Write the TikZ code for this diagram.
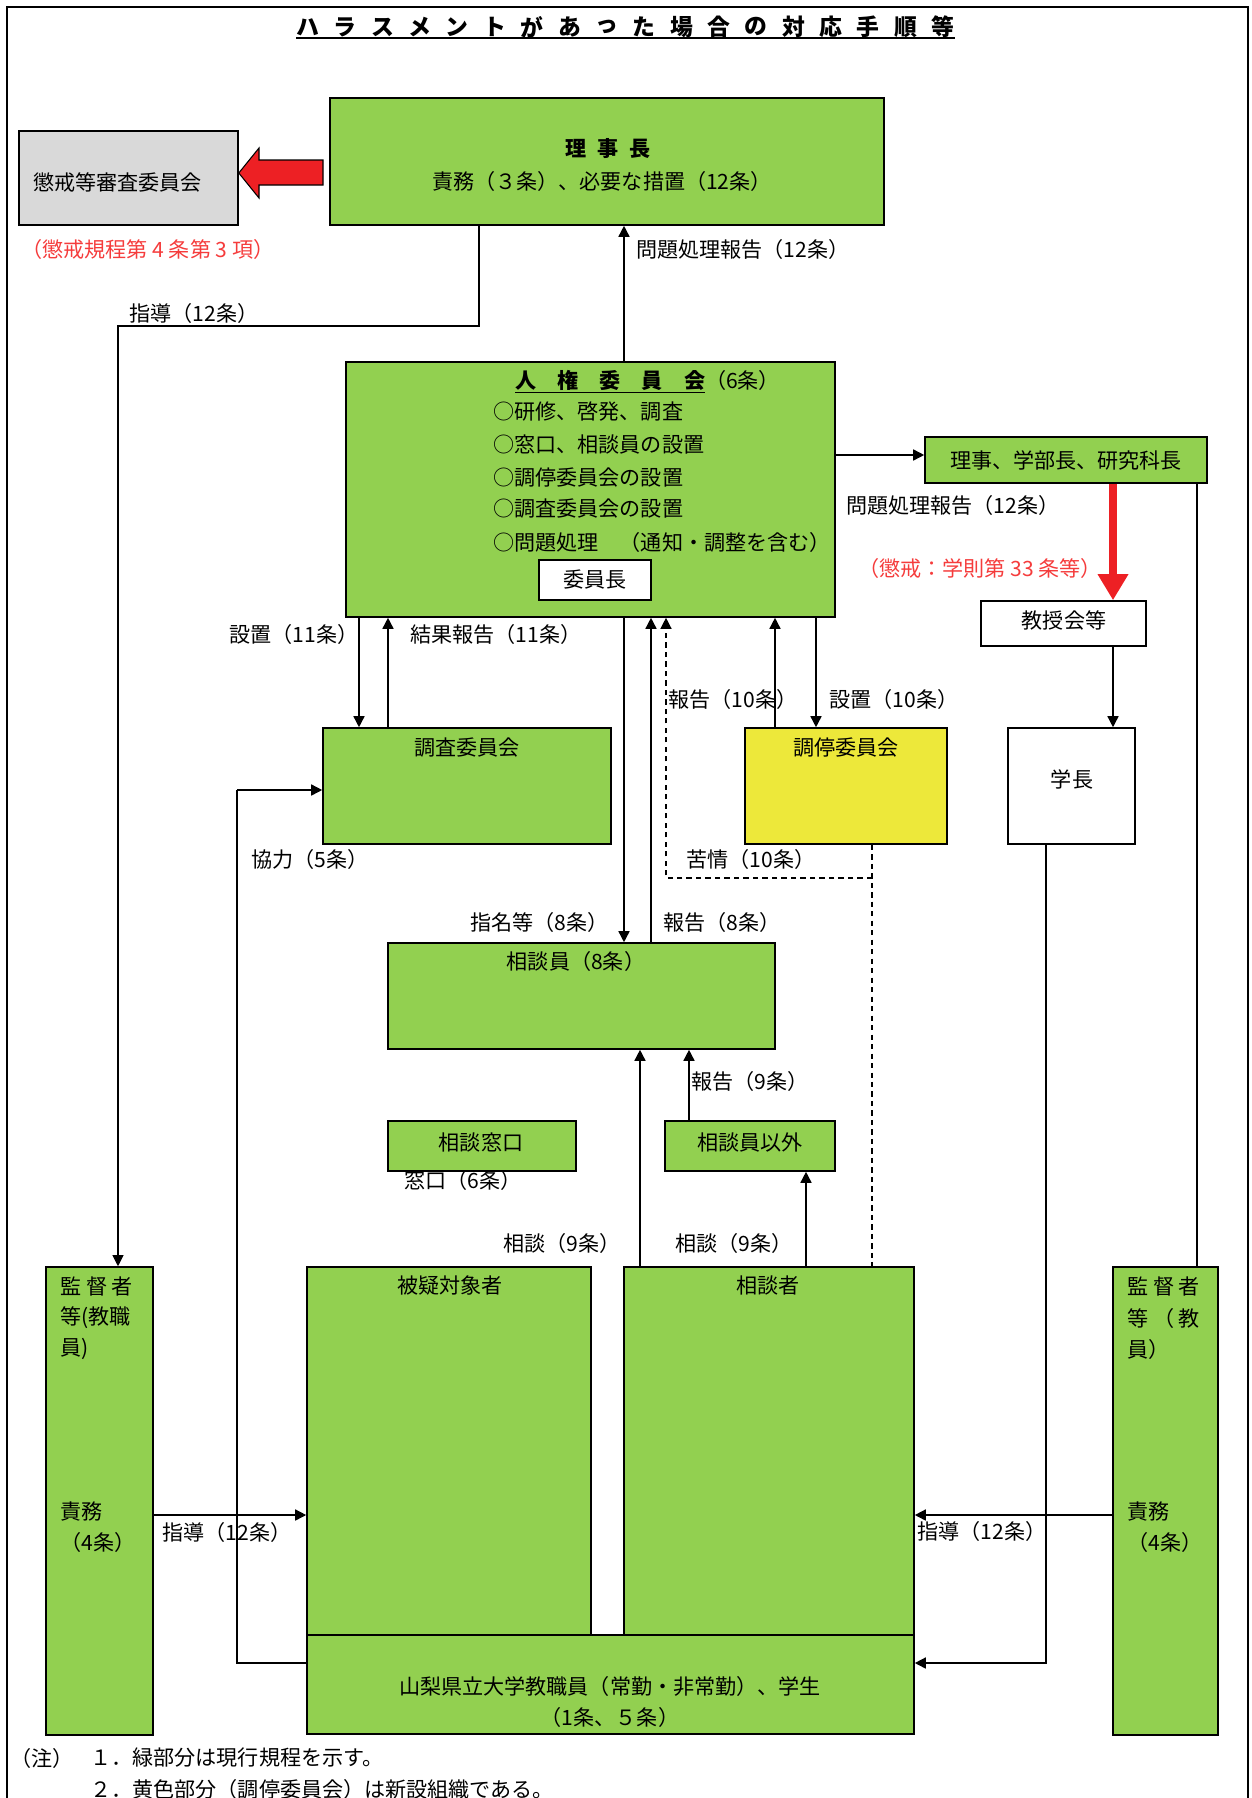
\documentclass[tikz,border=0pt]{standalone}
\usepackage{fontspec}
\setmainfont{Noto Sans CJK JP}
\usetikzlibrary{arrows.meta, fit}

\definecolor{grn}{RGB}{146,208,80}
\definecolor{ylw}{RGB}{237,232,58}
\definecolor{gry}{RGB}{217,217,217}
\definecolor{rd}{RGB}{237,32,36}
\definecolor{rdtxt}{RGB}{245,60,60}

% box from two corners: name, style, x1, y1, x2, y2
\newcommand{\bx}[6]{\path (#3,#4) coordinate (#1-a) (#5,#6) coordinate (#1-b);
  \node[#2, fit=(#1-a)(#1-b)] (#1) {};}

\tikzset{
  box/.style={draw, line width=0.9pt, inner sep=0pt},
  gbox/.style={box, fill=grn},
  wbox/.style={box, fill=white},
  txt/.style={inner sep=0pt},
  arr/.style={line width=0.85pt, -{Triangle[length=2.2mm,width=2.2mm]}},
  ln/.style={line width=0.6pt},
  dsh/.style={line width=0.7pt, dash pattern=on 3pt off 2.4pt},
}

\begin{document}
\begin{tikzpicture}[x=0.02cm, y=-0.02cm, every node/.style={font=\fontsize{12}{14}\selectfont}]
\useasboundingbox (0,0) rectangle (1251,1798);

% frame and title
\draw[line width=1.1pt] (7,1810) -- (7,7) -- (1248,7) -- (1248,1810);
\foreach \c [count=\i] in {ハ,ラ,ス,メ,ン,ト,が,あ,っ,た,場,合,の,対,応,手,順,等}
  \node[txt, font=\fontsize{13}{15}\selectfont\bfseries] (ttl-\i) at ({308+37.35*(\i-1)},27) {\c};
\draw[line width=1.2pt] (ttl-1.west |- 0,38) -- (ttl-18.east |- 0,38);

% top row
\bx{chokai}{box, fill=gry}{19}{131}{238}{225}
\node[txt, anchor=west] (t-chokai) at (33,182) {懲戒等審査委員会};
\node[txt, anchor=west, text=rdtxt] (l-chokai) at (21,249) {（懲戒規程第 4 条第 3 項）};
\bx{rijicho}{gbox}{330}{98}{884}{225}
\node[txt, font=\fontsize{12}{14}\selectfont\bfseries] (t-rijicho) at (608,149) {理\hspace{0.5em}事\hspace{0.5em}長};
\node[txt] (t-rijicho2) at (602,181) {責務（３条）、必要な措置（12条）};
\draw[line width=0.6pt, fill=rd] (chokai.east |- 0,173) -- (259,148) -- (259,160) -- (323,160)
  -- (323,185) -- (259,185) -- (259,198) -- cycle;

% human rights committee
\bx{jinken}{gbox}{346}{362}{835}{617}
\node[txt, anchor=west] (t-jinken) at (515,382) {\underline{\bfseries 人　権　委　員　会}（6条）};
\node[txt, anchor=west] (i-1) at (493,412) {○研修、啓発、調査};
\node[txt, anchor=west] (i-2) at (493,445) {○窓口、相談員の設置};
\node[txt, anchor=west] (i-3) at (493,478) {○調停委員会の設置};
\node[txt, anchor=west] (i-4) at (493,509) {○調査委員会の設置};
\node[txt, anchor=west] (i-5) at (493,542) {○問題処理　（通知・調整を含む）};
\bx{iincho}{wbox}{539}{560}{651}{600}
\node[txt] (t-iincho) at (iincho) {委員長};

\node[txt, anchor=west] (l-shido1) at (129,313) {指導（12条）};
\draw[arr] (624,0 |- jinken.north) -- (624,0 |- rijicho.south);
\node[txt, anchor=west] (l-hokoku12a) at (636,249) {問題処理報告（12条）};

% right column
\bx{riji}{gbox}{925}{437}{1207}{483}
\node[txt] (t-riji) at (riji) {理事、学部長、研究科長};
\draw[arr] (jinken.east |- 0,455) -- (riji.west |- 0,455);
\node[txt, anchor=west] (l-hokoku12b) at (846,505) {問題処理報告（12条）};
\bx{kyoju}{wbox}{981}{601}{1146}{646}
\node[txt] (t-kyoju) at (1064,620) {教授会等};
\draw[rd, line width=5pt, -{Triangle[length=5.2mm,width=5.8mm]}] (1113,0 |- riji.south) -- (1113,0 |- kyoju.north);
\node[txt, anchor=west, text=rdtxt] (l-gakusoku) at (858,568) {（懲戒：学則第 33 条等）};
\bx{gakucho}{wbox}{1008}{728}{1135}{844}
\node[txt] (t-gakucho) at (1072,779) {学長};
\draw[arr] (1113,0 |- kyoju.south) -- (1113,0 |- gakucho.north);

% committees
\node[txt, anchor=west] (l-setchi11) at (229,634) {設置（11条）};
\node[txt, anchor=west] (l-kekka11) at (410,634) {結果報告（11条）};
\node[txt, anchor=west] (l-hokoku10) at (668,699) {報告（10条）};
\node[txt, anchor=west] (l-setchi10) at (829,699) {設置（10条）};
\bx{chosa}{gbox}{323}{728}{611}{844}
\node[txt] (t-chosa) at (467,748) {調査委員会};
\bx{chotei}{box, fill=ylw}{745}{728}{947}{844}
\node[txt] (t-chotei) at (846,748) {調停委員会};
\draw[arr] (359,0 |- jinken.south) -- (359,0 |- chosa.north);
\draw[arr] (388,0 |- chosa.north) -- (388,0 |- jinken.south);
\draw[arr] (775,0 |- chotei.north) -- (775,0 |- jinken.south);
\draw[arr] (816,0 |- jinken.south) -- (816,0 |- chotei.north);
\node[txt, anchor=west] (l-kyoryoku) at (251,859) {協力（5条）};
\node[txt, anchor=west] (l-kujo) at (686,859) {苦情（10条）};

% consultants
\bx{soudanin}{gbox}{388}{943}{775}{1049}
\node[txt] (t-soudanin) at (576,961) {相談員（8条）};
\draw[arr] (624,0 |- jinken.south) -- (624,0 |- soudanin.north);
\draw[arr] (651,0 |- soudanin.north) -- (651,0 |- jinken.south);
\node[txt, anchor=west] (l-shimei) at (470,922) {指名等（8条）};
\node[txt, anchor=west] (l-hokoku8) at (663,922) {報告（8条）};
\node[txt, anchor=west] (l-madoguchi) at (404,1180) {窓口（6条）};
\bx{madoguchi}{gbox}{388}{1121}{576}{1171}
\node[txt] (t-madoguchi) at (481,1142) {相談窓口};
\bx{igai}{gbox}{665}{1121}{835}{1171}
\node[txt] (t-igai) at (750,1142) {相談員以外};
\draw[arr] (689,0 |- igai.north) -- (689,0 |- soudanin.south);
\node[txt, anchor=west] (l-hokoku9) at (691,1081) {報告（9条）};
\node[txt, anchor=west] (l-sodan9a) at (503,1243) {相談（9条）};
\node[txt, anchor=west] (l-sodan9b) at (675,1243) {相談（9条）};

% bottom row
\bx{kantokuL}{gbox}{46}{1267}{153}{1735}
\node[txt, anchor=west] (kl-1) at (60,1286) {監 督 者};
\node[txt, anchor=west] (kl-2) at (60,1318) {等(教職};
\node[txt, anchor=west] (kl-3) at (60,1349) {員)};
\node[txt, anchor=west] (kl-4) at (60,1511) {責務};
\node[txt, anchor=west] (kl-5) at (60,1542) {（4条）};
\bx{higi}{gbox}{307}{1267}{591}{1635}
\node[txt] (t-higi) at (450,1285) {被疑対象者};
\bx{sodansha}{gbox}{624}{1267}{914}{1635}
\node[txt] (t-sodansha) at (768,1285) {相談者};
\bx{yamanashi}{gbox}{307}{1635}{914}{1734}
\node[txt] (t-yama1) at (610,1686) {山梨県立大学教職員（常勤・非常勤）、学生};
\node[txt] (t-yama2) at (610,1717) {（1条、５条）};
\bx{kantokuR}{gbox}{1113}{1267}{1218}{1735}
\node[txt, anchor=west] (kr-1) at (1127,1286) {監 督 者};
\node[txt, anchor=west] (kr-2) at (1127,1318) {等 （ 教};
\node[txt, anchor=west] (kr-3) at (1127,1349) {員）};
\node[txt, anchor=west] (kr-4) at (1127,1511) {責務};
\node[txt, anchor=west] (kr-5) at (1127,1542) {（4条）};

\draw[arr, line width=0.6pt] (479,0 |- rijicho.south) |- (118,326) -- (118,0 |- kantokuL.north);
\draw[arr] (640,0 |- sodansha.north) -- (640,0 |- soudanin.south);
\draw[arr] (806,0 |- sodansha.north) -- (806,0 |- igai.south);
\draw[dsh] (872,0 |- chotei.south) -- (872,0 |- sodansha.north);
\draw[dsh, -{Triangle[length=2.2mm,width=2.2mm]}] (872,878) -| (666,0 |- jinken.south);
\draw[ln] (1197,0 |- riji.south) -- (1197,0 |- kantokuR.north);
\draw[arr] (1046,0 |- gakucho.south) |- (yamanashi.east |- 0,1663);
\draw[ln] (yamanashi.west |- 0,1663) -| (237,790);
\draw[arr] (237,790) -- (chosa.west |- 0,790);
\draw[arr] (kantokuL.east |- 0,1515) -- (higi.west |- 0,1515);
\node[txt, anchor=west] (l-shido2) at (162,1532) {指導（12条）};
\draw[arr] (kantokuR.west |- 0,1515) -- (sodansha.east |- 0,1515);
\node[txt, anchor=west] (l-shido3) at (917,1531) {指導（12条）};

% notes
\node[txt, anchor=west] (n-0) at (10,1758) {（注）};
\node[txt, anchor=west] (n-1) at (90,1758) {１．緑部分は現行規程を示す。};
\node[txt, anchor=west] (n-2) at (90,1789) {２．黄色部分（調停委員会）は新設組織である。};
\end{tikzpicture}
\end{document}
